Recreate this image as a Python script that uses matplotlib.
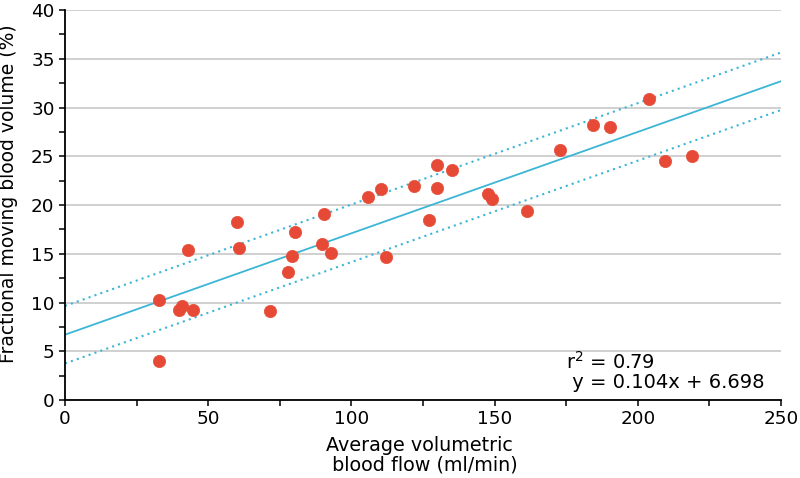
import numpy as np
import matplotlib
matplotlib.use("Agg")
import matplotlib.pyplot as plt
from matplotlib.ticker import MultipleLocator

# ---------- dados ----------
fluxo = [32.8, 32.8, 39.9, 40.7, 44.6, 43.1, 60.1, 60.8, 71.6, 77.9, 79.3,
         80.4, 89.8, 90.5, 92.9, 105.9, 110.2, 112.0, 121.8, 127.1, 130.0,
         130.0, 135.3, 147.7, 149.1, 161.2, 172.7, 184.4, 190.4, 203.8,
         209.4, 219.0]
volume = [10.3, 4.0, 9.2, 9.6, 9.2, 15.4, 18.3, 15.6, 9.1, 13.1, 14.8,
          17.2, 16.0, 19.1, 15.1, 20.8, 21.6, 14.7, 22.0, 18.5, 24.1,
          21.7, 23.6, 21.1, 20.6, 19.4, 25.6, 28.2, 28.0, 30.9,
          24.5, 25.0]

inclinacao = 0.104
intercepto = 6.698
faixa = 2.95
r2 = 0.79

cor_ponto = "#e64a36"
cor_linha = "#3cb5d6"

fig = plt.figure(figsize=(8, 4.78), dpi=100)
ax = fig.add_axes([0.08125, 0.1632, 0.895, 0.8158])

xs = np.array([0, 250])
ax.plot(xs, inclinacao * xs + intercepto, color=cor_linha, lw=1.3, zorder=2)
ax.plot(xs, inclinacao * xs + intercepto + faixa, color=cor_linha, lw=1.5,
        ls=(0, (1, 2)), zorder=2)
ax.plot(xs, inclinacao * xs + intercepto - faixa, color=cor_linha, lw=1.5,
        ls=(0, (1, 2)), zorder=2)
ax.scatter(fluxo, volume, s=78, color=cor_ponto, edgecolor=cor_ponto,
           linewidth=0.5, zorder=3)

ax.set_xlim(0, 250)
ax.set_ylim(0, 40)
ax.xaxis.set_major_locator(MultipleLocator(50))
ax.xaxis.set_minor_locator(MultipleLocator(25))
ax.yaxis.set_major_locator(MultipleLocator(5))
ax.yaxis.set_minor_locator(MultipleLocator(2.5))
ax.grid(axis="y", which="major", color="#cdcdcd", lw=1.3)
ax.set_axisbelow(True)
for s in ["top", "right"]:
    ax.spines[s].set_visible(False)
for s in ["left", "bottom"]:
    ax.spines[s].set_linewidth(1.3)
ax.tick_params(which="both", length=4, width=1.1, labelsize=13.2)

ax.set_xlabel("Average volumetric\n blood flow (ml/min)", fontsize=13.8,
              multialignment="left", linespacing=1.05)
ax.xaxis.set_label_coords(0.498, -0.092, transform=ax.transAxes)
ax.xaxis.label.set_va("top")
ax.set_ylabel("Fractional moving blood volume (%)", fontsize=13.5)
ax.yaxis.set_label_coords(-0.066, 0.53)

ax.text(0.700, 0.02, "r$^2$ = %.2f\n y = %.3fx + %.3f" % (r2, inclinacao, intercepto),
        transform=ax.transAxes, fontsize=14, ha="left", va="bottom",
        linespacing=1.05)

fig.savefig("out.png", dpi=100)
